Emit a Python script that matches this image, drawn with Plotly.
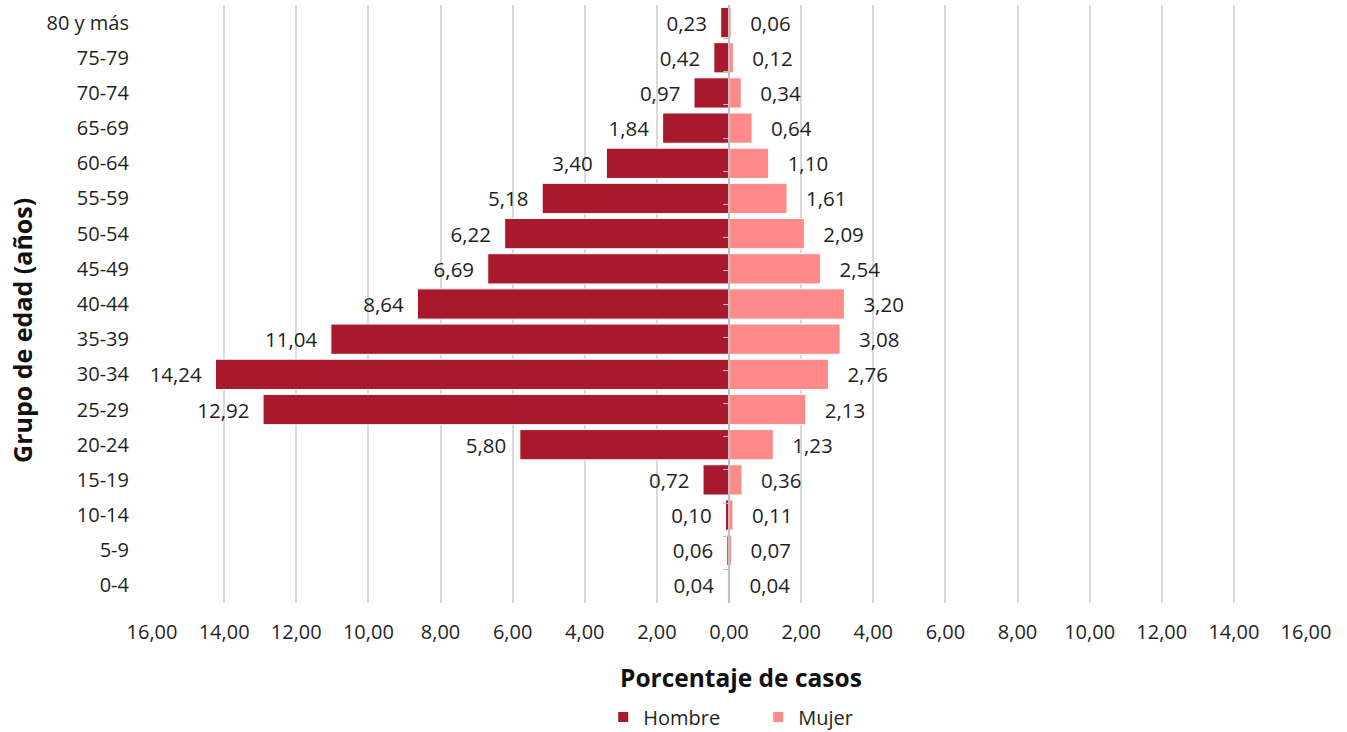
import plotly.graph_objects as go

# Age groups (bottom to top) and percentage of cases by sex
grupos = ["0-4", "5-9", "10-14", "15-19", "20-24", "25-29", "30-34", "35-39",
          "40-44", "45-49", "50-54", "55-59", "60-64", "65-69", "70-74",
          "75-79", "80 y más"]
hombre = [0.04, 0.06, 0.10, 0.72, 5.80, 12.92, 14.24, 11.04, 8.64, 6.69,
          6.22, 5.18, 3.40, 1.84, 0.97, 0.42, 0.23]
mujer = [0.04, 0.07, 0.11, 0.36, 1.23, 2.13, 2.76, 3.08, 3.20, 2.54,
         2.09, 1.61, 1.10, 0.64, 0.34, 0.12, 0.06]

tick_vals = list(range(-16, 17, 2))
tick_text = [f"{abs(v):.2f}".replace(".", ",") for v in tick_vals]

FONT = "'Open Sans', 'Noto Sans', sans-serif"
C_HOMBRE = "#A8192E"
C_MUJER = "#FF8A8A"
TXT = "#1F1F1F"
NBSP = "\u00a0"

fig = go.Figure()
fig.add_trace(go.Bar(
    y=grupos, x=[-v for v in hombre], orientation="h", name="Hombre",
    customdata=hombre,
    texttemplate="%{customdata:.2f}" + NBSP * 2,
    textposition="outside", cliponaxis=False,
    textfont=dict(size=20.5, color=TXT, family=FONT),
    marker=dict(color=C_HOMBRE, line=dict(color="white", width=1)),
))
fig.add_trace(go.Bar(
    y=grupos, x=mujer, orientation="h", name="Mujer",
    customdata=mujer,
    texttemplate=NBSP * 3 + "%{customdata:.2f}",
    textposition="outside", cliponaxis=False,
    textfont=dict(size=20.5, color=TXT, family=FONT),
    marker=dict(color=C_MUJER, line=dict(color="white", width=1)),
))
# invisible trace that carries the central axis line with its ticks
fig.add_trace(go.Scatter(y=grupos, x=[0] * len(grupos), yaxis="y2",
                         mode="markers", marker=dict(opacity=0),
                         showlegend=False, hoverinfo="skip"))

fig.update_layout(
    width=1347, height=732,
    paper_bgcolor="white", plot_bgcolor="white",
    margin=dict(l=152, r=41, t=5, b=129, autoexpand=False),
    barmode="overlay", bargap=0.14,
    separators=",.",
    font=dict(family=FONT, size=20, color=TXT),
    xaxis=dict(
        range=[-16, 16], tickvals=tick_vals, ticktext=tick_text,
        showgrid=True, gridcolor="#D9D9D9", gridwidth=1.5,
        zeroline=False, showline=False, automargin=False,
        ticks="outside", ticklen=11, tickcolor="rgba(0,0,0,0)",
        tickfont=dict(size=20, family=FONT, color=TXT),
    ),
    yaxis=dict(
        type="category", categoryorder="array", categoryarray=grupos,
        showgrid=False, zeroline=False, showline=False, automargin=False,
        ticks="", ticklabelstandoff=22,
        tickfont=dict(size=20, family=FONT, color=TXT),
    ),
    yaxis2=dict(
        type="category", categoryorder="array", categoryarray=grupos,
        overlaying="y", anchor="free", position=0.5, side="left",
        showline=True, linecolor="#BFBFBF", linewidth=1.5,
        ticks="outside", ticklen=5, tickcolor="#BFBFBF",
        showticklabels=False, showgrid=False, zeroline=False,
    ),
    legend=dict(
        orientation="h", xref="paper", x=0.391, xanchor="left",
        yref="container", y=0.0205, yanchor="middle", entrywidth=110,
        font=dict(size=20, family=FONT, color=TXT),
        itemsizing="constant",
    ),
    annotations=[
        dict(text="<b>Porcentaje de casos</b>", xref="paper", yref="paper",
             x=0.5104, y=-0.1254, xanchor="center", yanchor="middle",
             showarrow=False,
             font=dict(size=24.5, family=FONT, color="#111111")),
        dict(text="<b>Grupo de edad (años)</b>", xref="paper", yref="paper",
             x=-0.1127, y=0.4565, xanchor="center", yanchor="middle",
             textangle=-90, showarrow=False,
             font=dict(size=25, family=FONT, color="#111111")),
    ],
)

fig.write_html("out.html")
